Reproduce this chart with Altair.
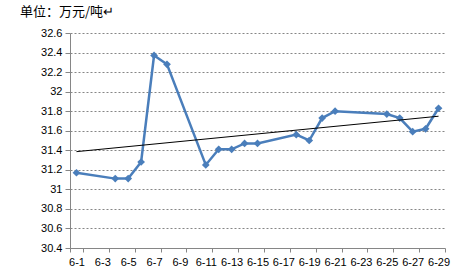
import altair as alt
import pandas as pd

days = [1, 4, 5, 6, 7, 8, 11, 12, 13, 14, 15, 18, 19, 20, 21, 25, 26, 27, 28, 29]
prices = [31.17, 31.11, 31.11, 31.28, 32.37, 32.28, 31.25, 31.41, 31.41, 31.47,
          31.47, 31.56, 31.50, 31.73, 31.80, 31.77, 31.73, 31.59, 31.62, 31.83]
all_labels = [f"6-{d}" for d in range(1, 30)]
tick_labels = [f"6-{d}" for d in range(1, 30, 2)]
y_ticks = [30.4, 30.6, 30.8, 31.0, 31.2, 31.4, 31.6, 31.8, 32.0, 32.2, 32.4, 32.6]

df = pd.DataFrame({"day": days, "price": prices})
df["label"] = ["6-" + str(d) for d in df["day"]]

blue = "#4A7EBB"
grey = "#868686"

x_enc = alt.X(
    "label:O",
    scale=alt.Scale(type="band", domain=all_labels, paddingInner=0, paddingOuter=0),
    axis=alt.Axis(
        values=tick_labels, tickBand="extent", tickSize=4, tickColor=grey,
        domainColor=grey, labelAngle=0, labelPadding=4, grid=False, title=None,
        labelFont="Liberation Sans", labelFontSize=11, labelColor="#000000",
    ),
    title=None,
)
y_enc = alt.Y(
    "price:Q",
    scale=alt.Scale(domain=[30.4, 32.6], nice=False, zero=False),
    axis=alt.Axis(
        values=y_ticks, format=".1~f", tickSize=5, tickColor=grey, domainColor=grey,
        gridColor=grey, gridDash=[2, 2], gridWidth=1, labelPadding=3,
        labelFont="Liberation Sans", labelFontSize=11, labelColor="#000000", title=None,
    ),
    title=None,
)

line = alt.Chart(df).mark_line(color=blue, strokeWidth=2.5).encode(x=x_enc, y=y_enc)
pts = alt.Chart(df).mark_point(shape="diamond", filled=True, size=60, color=blue, opacity=1).encode(
    x=x_enc, y=y_enc
)
trend = (
    alt.Chart(df)
    .transform_regression("day", "price")
    .transform_calculate(label="'6-' + datum.day")
    .mark_line(color="#000000", strokeWidth=1)
    .encode(x=x_enc, y=y_enc)
)

chart = (
    alt.layer(line, pts, trend)
    .properties(
        width=375,
        height=215,
        autosize=alt.AutoSizeParams(type="none"),
        padding={"left": 70, "top": 33, "right": 18, "bottom": 28},
        title=alt.TitleParams(
            "单位：万元/吨↵", anchor="start", frame="group", dx=-50, offset=8,
            font="Noto Sans CJK SC", fontSize=13, fontWeight="normal", color="#000000",
        ),
    )
    .configure_view(stroke=None)
)

chart.save("out.html", embed_options={"renderer": "svg", "actions": False})
